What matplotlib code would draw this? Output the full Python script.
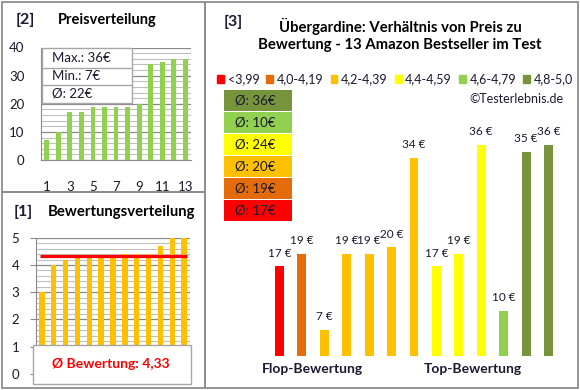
import matplotlib.pyplot as plt
import numpy as np
from matplotlib.patches import Rectangle

plt.rcParams["font.family"] = ["Lato", "DejaVu Sans"]

# data
prices_sorted = [7, 10, 17, 17, 19, 19, 19, 19, 20, 34, 35, 36, 36]
ratings_sorted = [3.0, 4.0, 4.2, 4.3, 4.3, 4.3, 4.3, 4.4, 4.4, 4.4, 4.7, 5.0, 5.0]
price_ticks = [1, 3, 5, 7, 9, 11, 13]

# panel 3: products ordered by rating, with the rating class index
products_price = [17, 19, 7, 19, 19, 20, 34, 17, 19, 36, 10, 35, 36]
products_class = [0, 1, 2, 2, 2, 2, 2, 3, 3, 3, 4, 5, 5]
class_labels = ["<3,99", "4,0-4,19", "4,2-4,39", "4,4-4,59", "4,6-4,79", "4,8-5,0"]
class_colors = ["#FF0000", "#E46C0A", "#FFC000", "#FFFF00", "#92D050", "#77933C"]

W, H = 580, 390
fig = plt.figure(figsize=(W / 100, H / 100), dpi=100, facecolor="white")
TXT = "#1a1a30"


def box(x0, y0, x1, y1):
    return [x0 / W, 1 - y1 / H, (x1 - x0) / W, (y1 - y0) / H]


def fx(x):
    return x / W


def fy(y):
    return 1 - y / H


# overlay in pixel coords, drawn above the chart axes
frame = fig.add_axes([0, 0, 1, 1])
frame.set_xlim(0, W)
frame.set_ylim(H, 0)
frame.axis("off")
frame.set_zorder(10)
for x0, y0, x1, y1 in [(2, 1.5, 204.5, 192), (2, 192, 204.5, 387.5), (204.5, 1.5, 578, 387.5)]:
    frame.add_patch(Rectangle((x0, y0), x1 - x0, y1 - y0, fill=False, ec="#8c8c8c", lw=1.3))

# ---------- [2] Preisverteilung ----------
ax2 = fig.add_axes(box(41, 47.5, 191, 160))
x = np.arange(1, len(prices_sorted) + 1)
ax2.bar(x, prices_sorted, width=0.42, color="#92D050", zorder=3)
ax2.set_xlim(0.5, 13.5)
ax2.set_ylim(0, 40)
ax2.set_yticks(np.arange(0, 41, 10))
ax2.set_yticks(np.arange(0, 41, 2), minor=True)
ax2.set_xticks(price_ticks)
ax2.grid(axis="y", which="minor", color="#C0C0C0", lw=0.8, zorder=1)
ax2.grid(axis="y", which="major", color="#8a8a8a", lw=0.9, zorder=1)
for s in ["top", "right"]:
    ax2.spines[s].set_visible(False)
ax2.spines["left"].set_color("#8a8a8a")
ax2.spines["bottom"].set_color("#8a8a8a")
ax2.tick_params(axis="y", which="both", length=0, pad=12, labelsize=9.5, labelcolor=TXT)
ax2.tick_params(axis="x", length=0, pad=15, labelsize=9.5, labelcolor=TXT)
ax2.set_facecolor("none")

p_max, p_min, p_avg = max(prices_sorted), min(prices_sorted), np.mean(prices_sorted)
frame.add_patch(Rectangle((41.5, 47.5), 90, 55.5, fc="white", ec="#a6a6a6", lw=1))
frame.plot([41.5, 131.5], [67.5, 67.5], color="#a6a6a6", lw=1)
frame.plot([41.5, 131.5], [85, 85], color="#a6a6a6", lw=1)
for yy, s in [(58, f"Max.: {p_max}€"), (76, f"Min.: {p_min}€"), (94, f"Ø: {p_avg:.0f}€")]:
    frame.text(52, yy, s, fontsize=9.5, color=TXT, va="center", ha="left")

frame.text(16, 20, "[2]", fontsize=11.5, fontweight="bold", color=TXT, va="center")
frame.text(58, 20, "Preisverteilung", fontsize=10.5, fontweight="bold", color="black", va="center")

# ---------- [1] Bewertungsverteilung ----------
ax1 = fig.add_axes(box(36, 237.7, 190, 374))
x = np.arange(1, len(ratings_sorted) + 1)
ax1.bar(x, ratings_sorted, width=0.45, color="#FFC000", zorder=3)
r_avg = np.mean(ratings_sorted)
ax1.hlines(r_avg, 0.85, 13.25, color="#FF0000", lw=2.3, zorder=4)
ax1.set_xlim(0.5, 13.5)
ax1.set_ylim(0, 5)
ax1.set_yticks(np.arange(0, 6, 1))
ax1.set_yticks(np.arange(0, 5.01, 0.2), minor=True)
ax1.set_xticks([])
ax1.grid(axis="y", which="minor", color="#C0C0C0", lw=0.8, zorder=1)
ax1.grid(axis="y", which="major", color="#8a8a8a", lw=0.9, zorder=1)
for s in ["top", "right"]:
    ax1.spines[s].set_visible(False)
ax1.spines["left"].set_color("#8a8a8a")
ax1.spines["bottom"].set_color("#8a8a8a")
ax1.tick_params(axis="y", which="major", length=4, color="#8a8a8a", pad=8, labelsize=9.5, labelcolor=TXT)
ax1.tick_params(axis="y", which="minor", length=0)
ax1.set_facecolor("none")

frame.add_patch(Rectangle((32.5, 344.5), 158, 39.5, fc="white", ec="#a6a6a6", lw=1))
frame.text(111, 364, f"Ø Bewertung: {r_avg:.2f}".replace(".", ","), fontsize=10,
           fontweight="bold", color="#FF0000", ha="center", va="center")
frame.text(14, 212, "[1]", fontsize=11.5, fontweight="bold", color=TXT, va="center")
frame.text(48, 212, "Bewertungsverteilung", fontsize=10.7, fontweight="bold", color="black", va="center")

# ---------- [3] Preis zu Bewertung ----------
ax3 = fig.add_axes(box(268.3, 119.6, 559.7, 355.7))
x = np.arange(1, len(products_price) + 1)
cols = [class_colors[c] for c in products_class]
ax3.bar(x, products_price, width=0.4, color=cols, zorder=3)
ax3.set_xlim(0.5, 13.5)
ax3.set_ylim(3, 40)
ax3.axis("off")
for xi, v in zip(x, products_price):
    ax3.annotate(f"{v} €", (xi, v), xytext=(0, 9.5), textcoords="offset points",
                 ha="center", va="center", fontsize=8.5, color=TXT, annotation_clip=False)

frame.text(224, 22, "[3]", fontsize=11.5, fontweight="bold", color=TXT, va="center")
frame.text(400, 26.5, "Übergardine: Verhältnis von Preis zu", fontsize=10.7, fontweight="bold",
           color="black", ha="center", va="center")
frame.text(400, 45.5, "Bewertung - 13 Amazon Bestseller im Test", fontsize=10.7, fontweight="bold",
           color="black", ha="center", va="center")

handles = [Rectangle((0, 0), 1, 1, color=c) for c in class_colors]
fig.legend(handles, class_labels, loc="center", bbox_to_anchor=(fx(395), fy(79)), ncol=6,
           frameon=False, fontsize=9, handlelength=0.55, handleheight=0.6, handletextpad=0.3,
           columnspacing=0.55, labelcolor=TXT)

frame.text(563, 99, "©Testerlebnis.de", fontsize=9, color=TXT, ha="right", va="center")

# average price per rating class, top class first
for k, ci in enumerate(range(len(class_colors) - 1, -1, -1)):
    vals = [p for p, c in zip(products_price, products_class) if c == ci]
    y0 = 90 + k * 22
    frame.add_patch(Rectangle((224, y0), 67.5, 20.5, fc=class_colors[ci], ec="none"))
    frame.text(235, y0 + 10.5, f"Ø: {np.mean(vals):.0f}€", fontsize=9.5, color=TXT, va="center")

frame.text(312.5, 369, "Flop-Bewertung", fontsize=10, fontweight="bold", color=TXT, ha="center", va="center")
frame.text(473, 369, "Top-Bewertung", fontsize=10, fontweight="bold", color=TXT, ha="center", va="center")

fig.savefig("out.png", dpi=100, facecolor="white")
